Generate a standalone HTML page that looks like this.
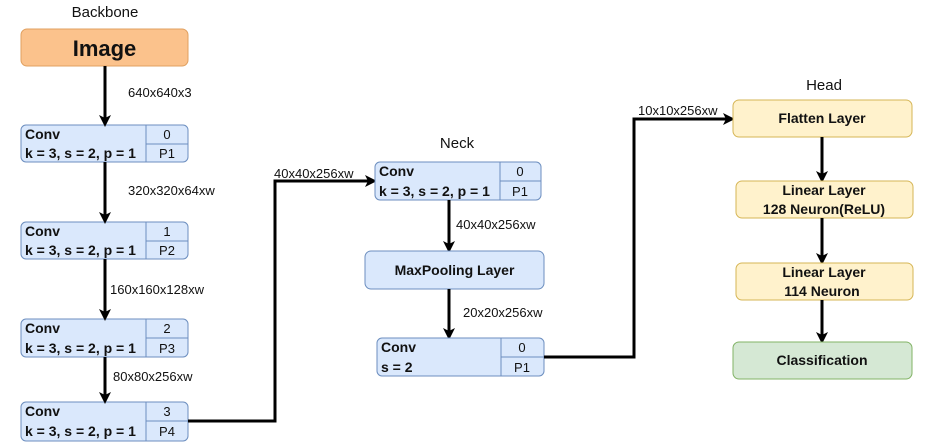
<!DOCTYPE html>
<html><head><meta charset="utf-8"><style>
html,body{margin:0;padding:0;background:#fff;width:930px;height:445px;overflow:hidden}
svg{display:block;font-family:"Liberation Sans",Arial,sans-serif}
.b{fill:#dae8fc;stroke:#6c8ebf;stroke-width:1}
.y{fill:#fff2cc;stroke:#d6b656;stroke-width:1}
.g{fill:#d5e8d4;stroke:#82b366;stroke-width:1}
.t{font-size:14px;font-weight:bold;fill:#111}
.l{font-size:13px;fill:#111}
.h{font-size:15px;fill:#111}
.ln{stroke:#000;stroke-width:3;fill:none}
</style></head><body>
<svg width="930" height="445" viewBox="0 0 930 445">
<defs><marker id="a" markerWidth="12" markerHeight="12" refX="9" refY="6" orient="auto" markerUnits="userSpaceOnUse" viewBox="0 0 12 12"><path d="M0,0 L12,6 L0,12 L3,6z" fill="#000"/></marker></defs>
<text x="105" y="17" text-anchor="middle" class="h">Backbone</text>
<text x="457" y="148" text-anchor="middle" class="h">Neck</text>
<text x="824" y="90" text-anchor="middle" class="h">Head</text>
<rect x="21" y="29" width="167" height="37" rx="6" fill="#fbc28c" stroke="#e0a060"/>
<text x="104.5" y="56" text-anchor="middle" font-size="22" font-weight="bold" fill="#111">Image</text>
<rect class="b" x="21" y="125" width="167" height="37" rx="5"/><line x1="146" y1="125" x2="146" y2="162" stroke="#6c8ebf"/><line x1="146" y1="144" x2="188" y2="144" stroke="#6c8ebf"/>
<text x="25" y="139" class="t">Conv</text><text x="25" y="158" class="t">k = 3, s = 2, p = 1</text><text x="167" y="139" class="l" text-anchor="middle">0</text><text x="167" y="158" class="l" text-anchor="middle">P1</text>
<rect class="b" x="21" y="222" width="167" height="37" rx="5"/><line x1="146" y1="222" x2="146" y2="259" stroke="#6c8ebf"/><line x1="146" y1="241" x2="188" y2="241" stroke="#6c8ebf"/>
<text x="25" y="236" class="t">Conv</text><text x="25" y="255" class="t">k = 3, s = 2, p = 1</text><text x="167" y="236" class="l" text-anchor="middle">1</text><text x="167" y="255" class="l" text-anchor="middle">P2</text>
<rect class="b" x="21" y="319" width="167" height="38" rx="5"/><line x1="146" y1="319" x2="146" y2="357" stroke="#6c8ebf"/><line x1="146" y1="338" x2="188" y2="338" stroke="#6c8ebf"/>
<text x="25" y="333" class="t">Conv</text><text x="25" y="353" class="t">k = 3, s = 2, p = 1</text><text x="167" y="333" class="l" text-anchor="middle">2</text><text x="167" y="353" class="l" text-anchor="middle">P3</text>
<rect class="b" x="21" y="402" width="167" height="39" rx="5"/><line x1="146" y1="402" x2="146" y2="441" stroke="#6c8ebf"/><line x1="146" y1="421" x2="188" y2="421" stroke="#6c8ebf"/>
<text x="25" y="416" class="t">Conv</text><text x="25" y="436" class="t">k = 3, s = 2, p = 1</text><text x="167" y="416" class="l" text-anchor="middle">3</text><text x="167" y="436" class="l" text-anchor="middle">P4</text>
<line class="ln" x1="105" y1="66" x2="105" y2="124" marker-end="url(#a)"/>
<line class="ln" x1="105" y1="162" x2="105" y2="221" marker-end="url(#a)"/>
<line class="ln" x1="105" y1="259" x2="105" y2="318" marker-end="url(#a)"/>
<line class="ln" x1="105" y1="357" x2="105" y2="401" marker-end="url(#a)"/>
<text x="128" y="97" class="l">640x640x3</text>
<text x="128" y="195" class="l">320x320x64xw</text>
<text x="110" y="294" class="l">160x160x128xw</text>
<text x="113" y="381" class="l">80x80x256xw</text>
<polyline class="ln" points="188,421 275,421 275,181 374,181" marker-end="url(#a)"/>
<text x="274" y="178" class="l">40x40x256xw</text>
<rect class="b" x="375" y="162" width="166" height="38" rx="5"/><line x1="500" y1="162" x2="500" y2="200" stroke="#6c8ebf"/><line x1="500" y1="181" x2="541" y2="181" stroke="#6c8ebf"/>
<text x="379" y="176" class="t">Conv</text><text x="379" y="196" class="t">k = 3, s = 2, p = 1</text><text x="520" y="176" class="l" text-anchor="middle">0</text><text x="520" y="196" class="l" text-anchor="middle">P1</text>
<line class="ln" x1="449" y1="200" x2="449" y2="250" marker-end="url(#a)"/>
<text x="456" y="229" class="l">40x40x256xw</text>
<rect class="b" x="365" y="251" width="179" height="38" rx="6"/>
<text x="454.5" y="275" class="t" text-anchor="middle">MaxPooling Layer</text>
<line class="ln" x1="449" y1="289" x2="449" y2="337" marker-end="url(#a)"/>
<text x="463" y="317" class="l">20x20x256xw</text>
<rect class="b" x="377" y="338" width="167" height="38" rx="5"/><line x1="501" y1="338" x2="501" y2="376" stroke="#6c8ebf"/><line x1="501" y1="357" x2="544" y2="357" stroke="#6c8ebf"/>
<text x="381" y="352" class="t">Conv</text><text x="381" y="372" class="t">s = 2</text><text x="522" y="352" class="l" text-anchor="middle">0</text><text x="522" y="372" class="l" text-anchor="middle">P1</text>
<polyline class="ln" points="544,357 634,357 634,119 732,119" marker-end="url(#a)"/>
<text x="638" y="115" class="l">10x10x256xw</text>
<rect class="y" x="733" y="100" width="179" height="37" rx="6"/>
<text x="822" y="123" class="t" text-anchor="middle">Flatten Layer</text>
<line class="ln" x1="822" y1="137" x2="822" y2="180" marker-end="url(#a)"/>
<rect class="y" x="736" y="181" width="177" height="37" rx="6"/>
<text x="824" y="195" class="t" text-anchor="middle">Linear Layer</text>
<text x="824" y="214" class="t" text-anchor="middle">128 Neuron(ReLU)</text>
<line class="ln" x1="822" y1="218" x2="822" y2="262" marker-end="url(#a)"/>
<rect class="y" x="736" y="263" width="177" height="37" rx="6"/>
<text x="824" y="277" class="t" text-anchor="middle">Linear Layer</text>
<text x="822" y="296" class="t" text-anchor="middle">114 Neuron</text>
<line class="ln" x1="822" y1="300" x2="822" y2="341" marker-end="url(#a)"/>
<rect class="g" x="733" y="342" width="179" height="37" rx="6"/>
<text x="822" y="365" class="t" text-anchor="middle">Classification</text>
</svg>
</body></html>
